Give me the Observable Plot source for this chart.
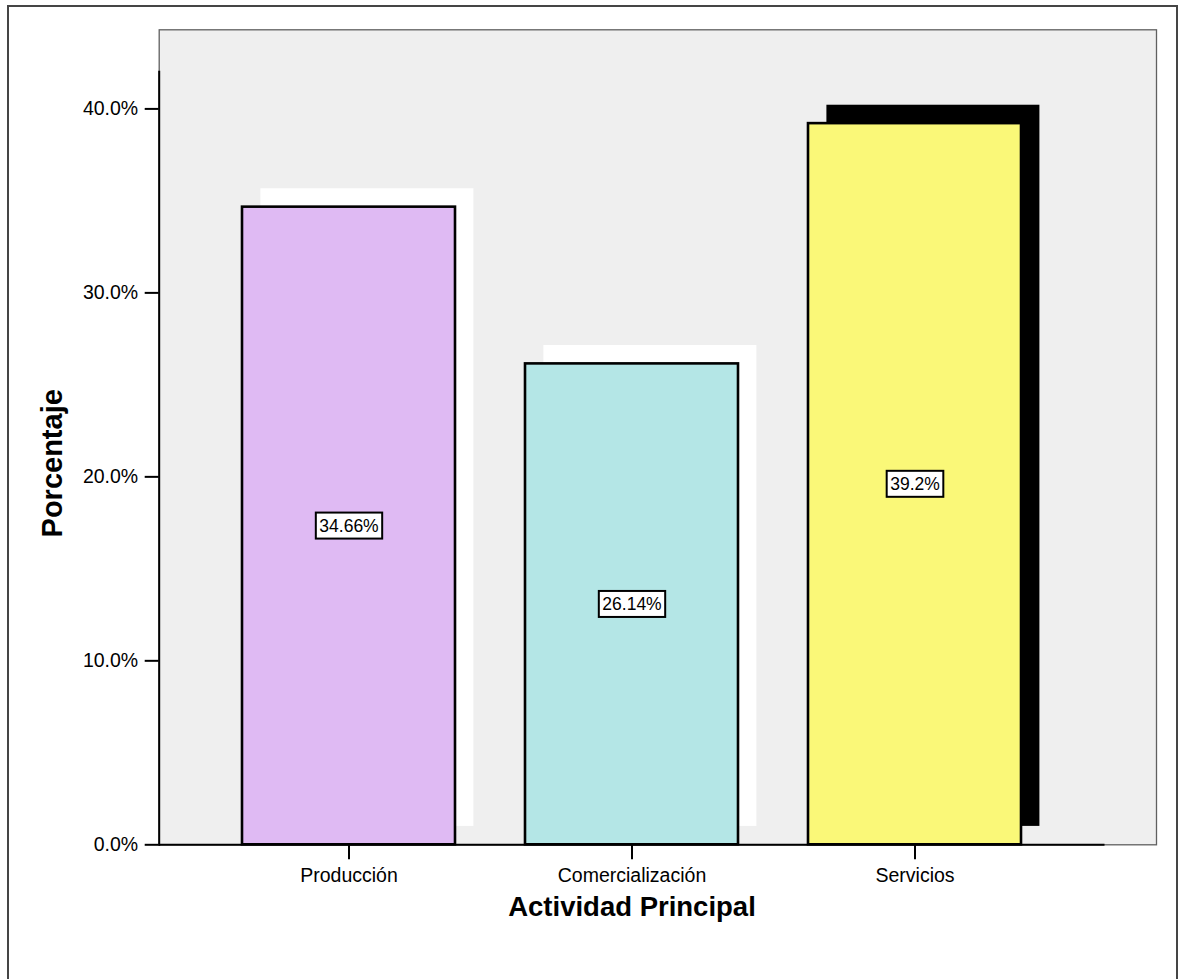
<!DOCTYPE html>
<html>
<head>
<meta charset="utf-8">
<script src="https://cdn.jsdelivr.net/npm/d3@7"></script>
<script src="https://cdn.jsdelivr.net/npm/@observablehq/plot@0.6"></script>
<style>
  html, body { margin: 0; padding: 0; background: #fff; }
  #wrap { position: relative; width: 1188px; height: 979px; overflow: hidden; }
  #border {
    position: absolute; left: 7px; top: 5px; width: 1171px; height: 990px;
    border: 2px solid #454545; box-sizing: border-box; pointer-events: none;
  }
  #chart { position: absolute; left: 0; top: 0; }
</style>
</head>
<body>
<div id="wrap">
  <div id="chart"></div>
  <div id="border"></div>
</div>
<script>
// Actividad principal: porcentaje por categoría
const categories = ["Producción", "Comercialización", "Servicios"];
const percentages = [34.66, 26.14, 39.2];
const valueLabels = ["34.66%", "26.14%", "39.2%"];
const barColors = ["#dfbaf3", "#b4e6e6", "#faf878"];
const shadowColors = ["#ffffff", "#ffffff", "#000000"];
const yTicks = [0, 10, 20, 30, 40];
const yTickLabels = ["0.0%", "10.0%", "20.0%", "30.0%", "40.0%"];
const xTitle = "Actividad Principal";
const yTitle = "Porcentaje";

const rows = categories.map((category, i) => ({
  category,
  pct: percentages[i],
  label: valueLabels[i],
  fill: barColors[i],
  shadow: shadowColors[i]
}));

const FONT = "'Liberation Sans', Arial, Helvetica, sans-serif";

const chart = Plot.plot({
  width: 1188,
  height: 979,
  marginLeft: 158.7,
  marginRight: 32,
  marginTop: 29.3,
  marginBottom: 134.7,
  style: { fontFamily: FONT, color: "#000", background: "transparent" },
  x: {
    type: "band",
    domain: categories,
    range: [158.7, 1104.5],
    paddingInner: 0.2484,
    paddingOuter: 0.2906
  },
  y: { domain: [0, 44.3] },
  color: { type: "identity" },
  marks: [
    // plot area background
    Plot.frame({ fill: "#efefef", stroke: "#606060", strokeWidth: 1.3 }),
    // offset shadow behind each bar
    Plot.barY(rows, { x: "category", y1: 0, y2: "pct", fill: "shadow", dx: 18.4, dy: -18.4 }),
    // bars
    Plot.barY(rows, { x: "category", y1: 0, y2: "pct", fill: "fill", stroke: "#000", strokeWidth: 2.6 }),
    // axis lines
    Plot.ruleY([0], { stroke: "#000", strokeWidth: 2, insetRight: 51.5 }),
    Plot.frame({ anchor: "left", stroke: "#000", strokeWidth: 2, insetTop: 42 }),
    // axes
    Plot.axisY({
      ticks: yTicks,
      tickFormat: d => yTickLabels[yTicks.indexOf(d)],
      tickSize: 14,
      tickPadding: 7,
      fontSize: 19.5,
      strokeWidth: 2,
      label: null
    }),
    Plot.axisX({
      tickSize: 15,
      tickPadding: 8,
      fontSize: 19.5,
      strokeWidth: 2,
      label: null
    }),
    // axis titles
    Plot.text([yTitle], {
      frameAnchor: "left", text: d => d, rotate: -90,
      textAnchor: "middle", lineAnchor: "middle",
      dx: -106, dy: 26, fontSize: 29, fontWeight: "bold"
    }),
    Plot.text([xTitle], {
      frameAnchor: "bottom", x: () => categories[1], text: d => d,
      textAnchor: "middle", lineAnchor: "middle",
      dy: 62, fontSize: 27.5, fontWeight: "bold"
    }),
    // value labels at mid-height of each bar
    Plot.text(rows, {
      x: "category", y: d => d.pct / 2, text: "label",
      fontSize: 17.5, fill: "#000", className: "value-label"
    })
  ]
});

document.getElementById("chart").appendChild(chart);

// white boxes with a black outline behind the value labels
d3.select(chart).selectAll(".value-label text").each(function () {
  const b = this.getBBox();
  const padX = 3.5, padY = 4;
  d3.select(this.parentNode)
    .insert("rect", () => this)
    .attr("transform", this.getAttribute("transform"))
    .attr("x", b.x - padX)
    .attr("y", b.y - padY + 1)
    .attr("width", b.width + 2 * padX)
    .attr("height", b.height + 2 * padY - 2)
    .attr("fill", "#fff")
    .attr("stroke", "#000")
    .attr("stroke-width", 2);
});
</script>
</body>
</html>
